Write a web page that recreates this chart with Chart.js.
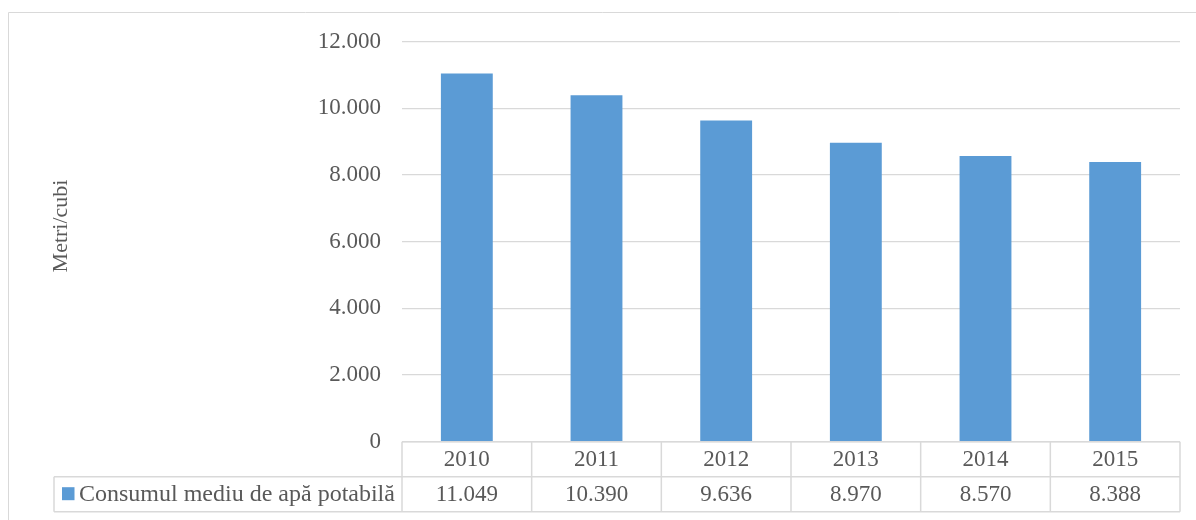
<!DOCTYPE html>
<html>
<head>
<meta charset="utf-8">
<script src="https://cdn.jsdelivr.net/npm/chart.js@4/dist/chart.umd.min.js"></script>
<style>
  html, body { margin: 0; padding: 0; background: #ffffff; }
  #wrap { position: relative; width: 1196px; height: 520px; }
</style>
</head>
<body>
<div id="wrap"><canvas id="chart"></canvas></div>
<script>
// Average drinking-water consumption per year
const years = ['2010', '2011', '2012', '2013', '2014', '2015'];
const consumption = [11049, 10390, 9636, 8970, 8570, 8388];
const seriesName = 'Consumul mediu de apă potabilă';
const axisTitle = 'Metri/cubi';
const yTicks = [0, 2000, 4000, 6000, 8000, 10000, 12000];

const FONT = "'Liberation Serif', 'Times New Roman', serif";
const TEXT = '#595959';
const LINE = '#D9D9D9';
const BAR = '#5B9BD5';

// Romanian number format: dot as thousands separator
function fmt(v) {
  return String(Math.round(v)).replace(/\B(?=(\d{3})+(?!\d))/g, '.');
}

// Outer frame, axis title and the data table under the plot
const tablePlugin = {
  id: 'dataTable',
  afterDraw(chart) {
    const ctx = chart.ctx;
    const xs = chart.scales.x;
    const area = chart.chartArea;
    const n = chart.data.labels.length;
    const colW = (xs.right - xs.left) / n;
    const rowH = 35;
    const top = area.bottom;
    const mid = top + rowH;
    const bot = mid + rowH;
    const legendLeft = 54;

    ctx.save();
    // frame
    ctx.strokeStyle = LINE;
    ctx.lineWidth = 1;
    ctx.beginPath();
    ctx.moveTo(8.5, 1200);
    ctx.lineTo(8.5, 12.5);
    ctx.lineTo(1300, 12.5);
    ctx.stroke();

    // axis title
    ctx.fillStyle = TEXT;
    ctx.font = '22px ' + FONT;
    ctx.textAlign = 'center';
    ctx.textBaseline = 'middle';
    ctx.translate(61, 226);
    ctx.rotate(-Math.PI / 2);
    ctx.fillText(axisTitle, 0, 0);
    ctx.restore();

    ctx.save();
    ctx.strokeStyle = LINE;
    ctx.lineWidth = 1.5;
    ctx.beginPath();
    ctx.moveTo(xs.left, top); ctx.lineTo(xs.right, top);
    ctx.moveTo(legendLeft, mid); ctx.lineTo(xs.right, mid);
    ctx.moveTo(legendLeft, bot); ctx.lineTo(xs.right, bot);
    ctx.moveTo(legendLeft, mid); ctx.lineTo(legendLeft, bot);
    for (let i = 0; i <= n; i++) {
      const x = xs.left + i * colW;
      ctx.moveTo(x, top); ctx.lineTo(x, bot);
    }
    ctx.stroke();

    ctx.fillStyle = TEXT;
    ctx.font = '23px ' + FONT;
    ctx.textAlign = 'center';
    ctx.textBaseline = 'middle';
    const vals = chart.data.datasets[0].data;
    chart.data.labels.forEach((lab, i) => {
      const cx = xs.getPixelForValue(i);
      ctx.fillText(lab, cx, top + rowH / 2 + 1);
      ctx.fillText(fmt(vals[i]), cx, mid + rowH / 2 + 1);
    });

    // legend key
    ctx.fillStyle = chart.data.datasets[0].backgroundColor;
    ctx.fillRect(62, mid + 10.5, 12.5, 13);
    ctx.fillStyle = TEXT;
    ctx.font = '24px ' + FONT;
    ctx.textAlign = 'left';
    ctx.fillText(chart.data.datasets[0].label, 79, mid + rowH / 2 + 1);
    ctx.restore();
  }
};

new Chart(document.getElementById('chart'), {
  type: 'bar',
  data: {
    labels: years,
    datasets: [{
      label: seriesName,
      data: consumption,
      backgroundColor: BAR,
      borderWidth: 0,
      categoryPercentage: 1,
      barPercentage: 0.4
    }]
  },
  options: {
    responsive: true,
    maintainAspectRatio: false,
    animation: false,
    devicePixelRatio: 1,
    layout: { padding: { left: 0, right: 16, top: 41.7, bottom: 78.3 } },
    plugins: {
      legend: { display: false },
      tooltip: { enabled: false },
      title: { display: false }
    },
    scales: {
      x: {
        display: false
      },
      y: {
        min: 0,
        max: 12000,
        afterFit(scale) { scale.width = 402; },
        afterBuildTicks(scale) { scale.ticks = yTicks.map(v => ({ value: v })); },
        border: { display: false },
        grid: { color: LINE, lineWidth: 1.3, drawTicks: false },
        ticks: {
          padding: 21,
          color: TEXT,
          font: { family: FONT, size: 23 },
          callback: v => fmt(v)
        }
      }
    }
  },
  plugins: [tablePlugin]
});
</script>
</body>
</html>
